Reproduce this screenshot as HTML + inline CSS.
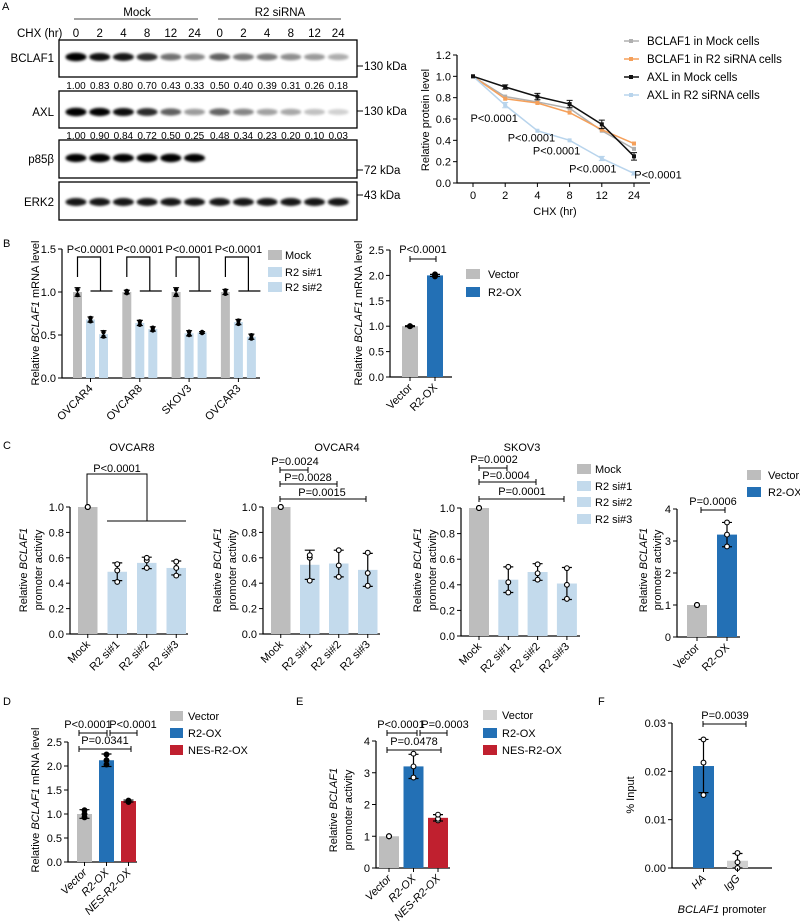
<!DOCTYPE html>
<html><head><meta charset="utf-8"><style>
html,body{margin:0;padding:0;background:#fff}
svg{display:block;font-family:"Liberation Sans",Arial,sans-serif;font-size:11px}
</style></head><body>
<svg id="fig" width="800" height="923" viewBox="0 0 800 923" xmlns="http://www.w3.org/2000/svg">
<defs><filter id="blur" x="-50%" y="-100%" width="200%" height="300%"><feGaussianBlur stdDeviation="1.3"/></filter></defs>
<g font-size="11">
<text x="2" y="10">A</text><text x="3" y="247">B</text><text x="3" y="449">C</text>
<text x="3" y="705">D</text><text x="296" y="705">E</text><text x="598" y="705">F</text>
</g>
<g font-size="11.5">
<text x="137" y="16" text-anchor="middle">Mock</text>
<line x1="74" y1="19" x2="198" y2="19" stroke="#444" stroke-width="1"/>
<text x="280" y="16" text-anchor="middle">R2 siRNA</text>
<line x1="218" y1="19" x2="341" y2="19" stroke="#444" stroke-width="1"/>
<text x="17" y="37">CHX (hr)</text>
</g>
<g font-size="11.5" text-anchor="end">
<text x="54" y="62">BCLAF1</text><text x="54" y="116">AXL</text><text x="54" y="163">p85β</text><text x="54" y="206">ERK2</text>
</g>
<g font-size="11.5">
<line x1="357" y1="66" x2="363" y2="66" stroke="#000"/><text x="364" y="70">130 kDa</text>
<line x1="357" y1="111" x2="363" y2="111" stroke="#000"/><text x="364" y="115">130 kDa</text>
<line x1="357" y1="170" x2="363" y2="170" stroke="#000"/><text x="364" y="174">72 kDa</text>
<line x1="357" y1="195" x2="363" y2="195" stroke="#000"/><text x="364" y="199">43 kDa</text>
</g>
<g id="blot"></g>
<g font-size="11.5">
<line x1="624" y1="41" x2="639" y2="41" stroke="#b0b0b0" stroke-width="1.5"/><rect x="629" y="39" width="4" height="4" fill="#b0b0b0"/><text x="647" y="45">BCLAF1 in Mock cells</text>
<line x1="624" y1="59" x2="639" y2="59" stroke="#f5a05a" stroke-width="1.5"/><rect x="629" y="57" width="4" height="4" fill="#f5a05a"/><text x="647" y="63">BCLAF1 in R2 siRNA cells</text>
<line x1="624" y1="77" x2="639" y2="77" stroke="#111" stroke-width="1.5"/><rect x="629" y="75" width="4" height="4" fill="#111"/><text x="647" y="81">AXL in Mock cells</text>
<line x1="624" y1="95" x2="639" y2="95" stroke="#b8d4ec" stroke-width="1.5"/><rect x="629" y="93" width="4" height="4" fill="#b8d4ec"/><text x="647" y="99">AXL in R2 siRNA cells</text>
</g>
<text transform="translate(429,120) rotate(-90)" text-anchor="middle">Relative protein level</text>
<text x="555" y="215" text-anchor="middle">CHX (hr)</text>
<g id="line"></g>
<text transform="translate(39,313) rotate(-90)" text-anchor="middle">Relative <tspan font-style="italic">BCLAF1</tspan> mRNA level</text>
<g>
<rect x="268" y="250" width="14" height="10" fill="#bdbdbd"/><text x="285" y="259">Mock</text>
<rect x="268" y="267" width="14" height="10" fill="#c3daec"/><text x="285" y="276">R2 si#1</text>
<rect x="268" y="282" width="14" height="10" fill="#c3daec"/><text x="285" y="291">R2 si#2</text>
</g>
<g id="chartB"></g>
<text transform="translate(362,313) rotate(-90)" text-anchor="middle">Relative <tspan font-style="italic">BCLAF1</tspan> mRNA level</text>
<g><text x="423" y="253" text-anchor="middle">P&lt;0.0001</text>
<path d="M410 256V262M410 259H436M436 256V262" stroke="#000" fill="none"/></g>
<g>
<rect x="466" y="269" width="14" height="10" fill="#bdbdbd"/><text x="488" y="278">Vector</text>
<rect x="466" y="287" width="14" height="10" fill="#2370b5"/><text x="488" y="296">R2-OX</text>
</g>
<g id="chartB2"></g>
<g text-anchor="middle">
<text x="132" y="451">OVCAR8</text><text x="337" y="451">OVCAR4</text><text x="522" y="451">SKOV3</text>
</g>
<g text-anchor="middle">
<text transform="translate(27,570) rotate(-90)">Relative <tspan font-style="italic">BCLAF1</tspan></text><text transform="translate(42,570) rotate(-90)">promoter activity</text>
<text transform="translate(221,570) rotate(-90)">Relative <tspan font-style="italic">BCLAF1</tspan></text><text transform="translate(236,570) rotate(-90)">promoter activity</text>
<text transform="translate(421,570) rotate(-90)">Relative <tspan font-style="italic">BCLAF1</tspan></text><text transform="translate(436,570) rotate(-90)">promoter activity</text>
<text transform="translate(647,570) rotate(-90)">Relative <tspan font-style="italic">BCLAF1</tspan></text><text transform="translate(661,570) rotate(-90)">promoter activity</text>
</g>
<g fill="none" stroke="#000">
<path d="M87 505V474H147V521M107 521H186"/>
<path d="M280 467V473M280 470H308M308 467V473"/>
<path d="M280 481V487M280 484H337M337 481V487"/>
<path d="M280 496V502M280 499H366M366 496V502"/>
<path d="M479 465V471M479 468H507M507 465V471"/>
<path d="M479 479V485M479 482H536M536 479V485"/>
<path d="M479 496V502M479 499H564M564 496V502"/>
<path d="M701 507V513M701 510H725M725 507V513"/>
</g>
<g text-anchor="middle">
<text x="117" y="472">P&lt;0.0001</text>
<text x="295" y="465">P=0.0024</text><text x="308" y="481">P=0.0028</text><text x="322" y="496">P=0.0015</text>
<text x="494" y="463">P=0.0002</text><text x="506" y="479">P=0.0004</text><text x="522" y="495">P=0.0001</text>
<text x="713" y="505">P=0.0006</text>
</g>
<g>
<rect x="577" y="464" width="14" height="10" fill="#bdbdbd"/><text x="595" y="473">Mock</text>
<rect x="577" y="481" width="14" height="10" fill="#c3daec"/><text x="595" y="490">R2 si#1</text>
<rect x="577" y="497" width="14" height="10" fill="#c3daec"/><text x="595" y="506">R2 si#2</text>
<rect x="577" y="514" width="14" height="10" fill="#c3daec"/><text x="595" y="523">R2 si#3</text>
<rect x="747" y="470" width="14" height="10" fill="#bdbdbd"/><text x="768" y="479">Vector</text>
<rect x="747" y="487" width="14" height="10" fill="#2370b5"/><text x="768" y="496">R2-OX</text>
</g>
<g id="chartC1"></g>
<g id="chartC2"></g>
<g id="chartC3"></g>
<g id="chartC4"></g>
<text transform="translate(39,800) rotate(-90)" text-anchor="middle">Relative <tspan font-style="italic">BCLAF1</tspan> mRNA level</text>
<g><g fill="none" stroke="#000">
<path d="M79 730V736M79 733H107M107 730V736M110 730V736M110 733H137M137 730V736M79 746V752M79 749H131M131 746V752"/></g>
<text x="88" y="728" text-anchor="middle">P&lt;0.0001</text><text x="133" y="728" text-anchor="middle">P&lt;0.0001</text><text x="105" y="744" text-anchor="middle">P=0.0341</text></g>
<g>
<rect x="170" y="711" width="13" height="10" fill="#bdbdbd"/><text x="188" y="720">Vector</text>
<rect x="170" y="728" width="13" height="10" fill="#2370b5"/><text x="188" y="737">R2-OX</text>
<rect x="170" y="745" width="13" height="10" fill="#c0202f"/><text x="188" y="754">NES-R2-OX</text>
</g>
<g id="chartD"></g>
<g text-anchor="middle">
<text transform="translate(337,810) rotate(-90)">Relative <tspan font-style="italic">BCLAF1</tspan></text><text transform="translate(352,810) rotate(-90)">promoter activity</text></g>
<g><g fill="none" stroke="#000">
<path d="M387 730V736M387 733H417M417 730V736M420 730V736M420 733H447M447 730V736M387 747V753M387 750H441M441 747V753"/></g>
<text x="401" y="728" text-anchor="middle">P&lt;0.0001</text><text x="445" y="728" text-anchor="middle">P=0.0003</text><text x="414" y="745" text-anchor="middle">P=0.0478</text></g>
<g>
<rect x="483" y="710" width="14" height="10" fill="#d0d0d0"/><text x="502" y="719">Vector</text>
<rect x="483" y="728" width="14" height="10" fill="#2370b5"/><text x="502" y="737">R2-OX</text>
<rect x="483" y="745" width="14" height="10" fill="#c0202f"/><text x="502" y="754">NES-R2-OX</text>
</g>
<g id="chartE"></g>
<text transform="translate(634,795) rotate(-90)" text-anchor="middle">% Input</text>
<g><path d="M703 721V727M703 724H746M746 721V727" stroke="#000" fill="none"/><text x="725" y="719" text-anchor="middle">P=0.0039</text></g>
<text x="722" y="913" text-anchor="middle"><tspan font-style="italic">BCLAF1</tspan> promoter</text>
<g id="chartF"></g>
</svg>
<script>
const laneCats = ['0','2','4','8','12','24','0','2','4','8','12','24'];
const bclafBand = [1.00,0.83,0.80,0.70,0.43,0.33,0.50,0.40,0.39,0.31,0.26,0.18];
const axlBand = [1.00,0.90,0.84,0.72,0.50,0.25,0.48,0.34,0.23,0.20,0.10,0.03];
const p85Band = [0.95,1.0,0.95,1.0,1.0,0.9,0,0,0,0,0,0];
const erkBand = [0.8,0.8,0.8,0.8,0.8,0.8,0.8,0.8,0.8,0.8,0.8,0.8];

const chxCats = ['0','2','4','8','12','24'];
const bclafMock = [1,0.81,0.76,0.70,0.49,0.32];
const bclafR2 = [1,0.79,0.75,0.66,0.50,0.37];
const axlMock = [1,0.90,0.81,0.74,0.55,0.25];
const axlMockErr = [0,0.02,0.03,0.035,0.04,0.035];
const axlR2 = [1,0.73,0.49,0.40,0.23,0.09];
const axlR2Err = [0,0.025,0,0,0.02,0.015];
const lineTicks = [0,0.2,0.4,0.6,0.8,1.0,1.2];
const linePLabels = ['','P<0.0001','P<0.0001','P<0.0001','P<0.0001','P<0.0001'];

const bCells = ['OVCAR4','OVCAR8','SKOV3','OVCAR3'];
const bMock = [1,1,1,1];
const bSi1 = [0.68,0.64,0.52,0.65];
const bSi2 = [0.51,0.57,0.53,0.48];
const bMockErr = [0.05,0.02,0.05,0.03];
const bSi1Err = [0.03,0.03,0.03,0.03];
const bSi2Err = [0.04,0.025,0.01,0.03];
const bTicks = [0,0.5,1.0,1.5];

const b2Cats = ['Vector','R2-OX'];
const b2Vals = [1.0,2.0];
const b2Errs = [0.01,0.02];
const b2Pts = [[1.0,1.0,1.0],[1.98,2.0,2.02]];
const b2Ticks = [0,0.5,1.0,1.5,2.0,2.5];

const cCats = ['Mock','R2 si#1','R2 si#2','R2 si#3'];
const cTicks = [0,0.2,0.4,0.6,0.8,1.0];
const c1Vals = [1,0.49,0.56,0.52];
const c1Errs = [0,0.07,0.045,0.055];
const c1Pts = [[1,1,1],[0.41,0.50,0.55],[0.52,0.58,0.60],[0.46,0.52,0.57]];
const c2Vals = [1,0.545,0.555,0.505];
const c2Errs = [0,0.115,0.105,0.13];
const c2Pts = [[1,1,1],[0.42,0.60,0.62],[0.45,0.54,0.66],[0.38,0.48,0.64]];
const c3Vals = [1,0.44,0.50,0.41];
const c3Errs = [0,0.10,0.065,0.125];
const c3Pts = [[1,1,1],[0.34,0.42,0.54],[0.44,0.49,0.56],[0.29,0.40,0.53]];
const c4Cats = ['Vector','R2-OX'];
const c4Vals = [1,3.2];
const c4Errs = [0,0.38];
const c4Pts = [[1,1,1],[2.83,3.2,3.58]];
const c4Ticks = [0,1,2,3,4];

const dCats = ['Vector','R2-OX','NES-R2-OX'];
const dVals = [1.0,2.12,1.27];
const dErrs = [0.09,0.13,0.02];
const dPts = [[0.93,1.0,1.08],[2.03,2.12,2.24],[1.25,1.27,1.28]];
const dTicks = [0,0.5,1.0,1.5,2.0,2.5];

const eVals = [1.0,3.2,1.58];
const eErrs = [0,0.38,0.1];
const ePts = [[1,1,1],[2.85,3.2,3.6],[1.5,1.55,1.68]];
const eTicks = [0,1,2,3,4];

const fCats = ['HA','IgG'];
const fVals = [0.0211,0.0015];
const fErrs = [0.0055,0.0015];
const fPts = [[0.0151,0.0218,0.0266],[0,0.0012,0.0031]];
const fTicks = [0,0.01,0.02,0.03];
const fTickLabels = ['0.00','0.01','0.02','0.03'];

const NS='http://www.w3.org/2000/svg';
function mk(tag, attrs, parent){const e=document.createElementNS(NS,tag);for(const k in attrs)e.setAttribute(k,attrs[k]);parent.appendChild(e);return e;}
function txt(s, attrs, parent){const e=mk('text',attrs,parent);e.textContent=s;return e;}

const blot=document.getElementById('blot');
const laneX = i => 76 + i*23.7 + (i>=6?1.5:0);
const boxes=[[40,77,57,bclafBand,'bclaf1'],[91,128,112,axlBand,'axl'],[140,178,158,p85Band,'p85b'],[182,220,202,erkBand,'erk2']];
boxes.forEach(([t,b,by,arr,nm])=>{
  const r=mk('rect',{x:59,y:t,width:298,height:b-t,fill:'#fff',stroke:'#000','stroke-width':1.3},blot);
  
  
  arr.forEach((v,i)=>{
    if(v<=0) return;
    const e=mk('ellipse',{cx:laneX(i),cy:by,rx:10.5,ry:3+v*1.2,fill:'#000',opacity:Math.min(1,0.15+v*0.95),filter:'url(#blur)'},blot);
    
    
  });
});
laneCats.forEach((c,i)=>{
  const t=txt(c,{x:laneX(i),y:37,'text-anchor':'middle','font-size':11.5},blot);
  
  
  const a=txt(bclafBand[i].toFixed(2),{x:laneX(i),y:89,'text-anchor':'middle','font-size':10},blot);
  
  
  const b=txt(axlBand[i].toFixed(2),{x:laneX(i),y:139,'text-anchor':'middle','font-size':10},blot);
  
  
});

const lg=document.getElementById('line');
const lx = i => 473 + i*32.2;
const ly = v => 183 - v*(128/1.2);
mk('path',{d:'M457 '+ly(1.2)+'V183H650',stroke:'#000',fill:'none','stroke-width':1.2},lg);
lineTicks.forEach(v=>{
  mk('line',{x1:453,x2:457,y1:ly(v),y2:ly(v),stroke:'#000'},lg);
  const t=txt(v.toFixed(1),{x:451,y:ly(v)+4,'text-anchor':'end'},lg);
  
  
});
chxCats.forEach((c,i)=>{
  mk('line',{x1:lx(i),x2:lx(i),y1:183,y2:187,stroke:'#000'},lg);
  const t=txt(c,{x:lx(i),y:199,'text-anchor':'middle'},lg);
  
  
});
const series=[[bclafMock,null,'#b0b0b0','bclaf1-mock'],[bclafR2,null,'#f5a05a','bclaf1-r2'],[axlR2,axlR2Err,'#b8d4ec','axl-r2'],[axlMock,axlMockErr,'#111','axl-mock']];
series.forEach(([vals,errs,col,nm])=>{
  const p=mk('polyline',{points:vals.map((v,i)=>lx(i)+','+ly(v)).join(' '),fill:'none',stroke:col,'stroke-width':1.5},lg);
  
  
  vals.forEach((v,i)=>{
    if(errs&&errs[i]>0){
      mk('path',{d:`M${lx(i)} ${ly(v-errs[i])}V${ly(v+errs[i])}M${lx(i)-3} ${ly(v-errs[i])}h6M${lx(i)-3} ${ly(v+errs[i])}h6`,stroke:col,fill:'none'},lg);
    }
    const m=mk('rect',{x:lx(i)-2,y:ly(v)-2,width:4,height:4,fill:col},lg);
    
    
  });
});
const pOff=[[0,0],[-11,17],[-6,11],[-13,14],[-9,14],[24,5]];
linePLabels.forEach((s,i)=>{
  if(!s) return;
  const t=txt(s,{x:lx(i)+pOff[i][0],y:ly(axlR2[i])+pOff[i][1],'text-anchor':'middle'},lg);
  
  
});

function barChart(g,o){
  const y=v=>o.y0-v/o.vTop*(o.y0-o.yTop);
  const cx=i=>o.x0+i*o.step+o.bw/2;
  mk('path',{d:`M${o.ax} ${y(o.vTop)}V${o.y0}H${o.axEnd}`,stroke:'#000',fill:'none','stroke-width':1.2},g);
  o.ticks.forEach((v,k)=>{
    mk('line',{x1:o.ax-4,x2:o.ax,y1:y(v),y2:y(v),stroke:'#000'},g);
    const t=txt(o.tickLabels?o.tickLabels[k]:(o.dec===0?String(v):v.toFixed(o.dec)),{x:o.ax-6,y:y(v)+4,'text-anchor':'end'},g);
    
    
  });
  o.vals.forEach((v,i)=>{
    const r=mk('rect',{x:cx(i)-o.bw/2,y:y(v),width:o.bw,height:o.y0-y(v),fill:o.colors[i]},g);
    
    
    const e=o.errs[i];
    if(e>0){
      mk('path',{d:`M${cx(i)} ${y(v-e)}V${y(v+e)}M${cx(i)-5} ${y(v-e)}h10M${cx(i)-5} ${y(v+e)}h10`,stroke:'#000',fill:'none','stroke-width':1.2},g);
    }
    o.pts[i].forEach(p=>{
      const c=mk('circle',{cx:cx(i),cy:y(p),r:2.4,fill:o.dotFill,stroke:'#000','stroke-width':1.1},g);
      
      
    });
    mk('line',{x1:cx(i),x2:cx(i),y1:o.y0,y2:o.y0+4,stroke:'#000'},g);
    const t=txt(o.cats[i],{x:cx(i)+3,y:o.y0+11,'text-anchor':'end',transform:`rotate(-45 ${cx(i)+3} ${o.y0+11})`,'font-style':o.italic?'italic':'normal'},g);
    
    
  });
}

(function(){
  const g=document.getElementById('chartB');
  const y0=378,yTop=249,vTop=1.5;
  const y=v=>y0-v/vTop*(y0-yTop);
  const cx=(gi,k)=>77.5+gi*49.3+k*13;
  mk('path',{d:`M62 ${yTop}V${y0}H260`,stroke:'#000',fill:'none','stroke-width':1.2},g);
  bTicks.forEach(v=>{
    mk('line',{x1:58,x2:62,y1:y(v),y2:y(v),stroke:'#000'},g);
    const t=txt(v.toFixed(1),{x:56,y:y(v)+4,'text-anchor':'end'},g);
    
    
  });
  const sets=[[bMock,bMockErr,'#bdbdbd'],[bSi1,bSi1Err,'#c3daec'],[bSi2,bSi2Err,'#c3daec']];
  bCells.forEach((c,gi)=>{
    sets.forEach(([vals,errs,col],k)=>{
      const v=vals[gi],e=errs[gi],x=cx(gi,k);
      const r=mk('rect',{x:x-4.5,y:y(v),width:9,height:y0-y(v),fill:col},g);
      
      
      mk('path',{d:`M${x} ${y(v-e)}V${y(v+e)}M${x-3} ${y(v-e)}h6M${x-3} ${y(v+e)}h6`,stroke:'#000',fill:'none','stroke-width':1.2},g);
      mk('circle',{cx:x,cy:y(v-e*0.7),r:2.2,fill:'#000'},g);
      mk('circle',{cx:x,cy:y(v+e*0.6),r:2.2,fill:'#000'},g);
    });
    const mx=cx(gi,0);
    mk('path',{d:`M${mx} 277V257H${mx+23}V291M${mx+13} 291H${mx+35}`,stroke:'#000',fill:'none','stroke-width':1.2},g);
    const p=txt('P<0.0001',{x:mx+13,y:253,'text-anchor':'middle'},g);
    
    
    mk('line',{x1:cx(gi,1),x2:cx(gi,1),y1:y0,y2:y0+4,stroke:'#000'},g);
    const t=txt(c,{x:cx(gi,1)+3,y:y0+11,'text-anchor':'end',transform:`rotate(-45 ${cx(gi,1)+3} ${y0+11})`},g);
    
    
  });
})();

barChart(document.getElementById('chartB2'),{ax:390,axEnd:452,y0:377,yTop:250,vTop:2.5,ticks:b2Ticks,dec:1,cats:b2Cats,vals:b2Vals,errs:b2Errs,pts:b2Pts,colors:['#bdbdbd','#2370b5'],x0:402,step:25,bw:16,dotFill:'#000'});
barChart(document.getElementById('chartC1'),{ax:70,axEnd:188,y0:634,yTop:507,vTop:1,ticks:cTicks,dec:1,cats:cCats,vals:c1Vals,errs:c1Errs,pts:c1Pts,colors:['#bdbdbd','#c3daec','#c3daec','#c3daec'],x0:78,step:29.5,bw:19.5,dotFill:'#fff'});
barChart(document.getElementById('chartC2'),{ax:263,axEnd:380,y0:634,yTop:507,vTop:1,ticks:cTicks,dec:1,cats:cCats,vals:c2Vals,errs:c2Errs,pts:c2Pts,colors:['#bdbdbd','#c3daec','#c3daec','#c3daec'],x0:271,step:29,bw:19.5,dotFill:'#fff'});
barChart(document.getElementById('chartC3'),{ax:461,axEnd:580,y0:636,yTop:508,vTop:1,ticks:cTicks,dec:1,cats:cCats,vals:c3Vals,errs:c3Errs,pts:c3Pts,colors:['#bdbdbd','#c3daec','#c3daec','#c3daec'],x0:469,step:29.3,bw:20,dotFill:'#fff'});
barChart(document.getElementById('chartC4'),{ax:677,axEnd:740,y0:637,yTop:509,vTop:4,ticks:c4Ticks,dec:0,cats:c4Cats,vals:c4Vals,errs:c4Errs,pts:c4Pts,colors:['#bdbdbd','#2370b5'],x0:687,step:30,bw:20,dotFill:'#fff'});
barChart(document.getElementById('chartD'),{ax:68,axEnd:137,y0:862,yTop:742,vTop:2.5,ticks:dTicks,dec:1,cats:dCats,vals:dVals,errs:dErrs,pts:dPts,colors:['#bdbdbd','#2370b5','#c0202f'],x0:77,step:22,bw:15,dotFill:'#000',italic:true});
barChart(document.getElementById('chartE'),{ax:376,axEnd:450,y0:868,yTop:741,vTop:4,ticks:eTicks,dec:0,cats:dCats,vals:eVals,errs:eErrs,pts:ePts,colors:['#bdbdbd','#2370b5','#c0202f'],x0:379,step:24.5,bw:20,dotFill:'#fff',italic:true});
barChart(document.getElementById('chartF'),{ax:672,axEnd:772,y0:868,yTop:723,vTop:0.03,ticks:fTicks,tickLabels:fTickLabels,cats:fCats,vals:fVals,errs:fErrs,pts:fPts,colors:['#2370b5','#d0d0d0'],x0:693,step:34,bw:21,dotFill:'#fff',italic:true});
</script>
</body></html>
